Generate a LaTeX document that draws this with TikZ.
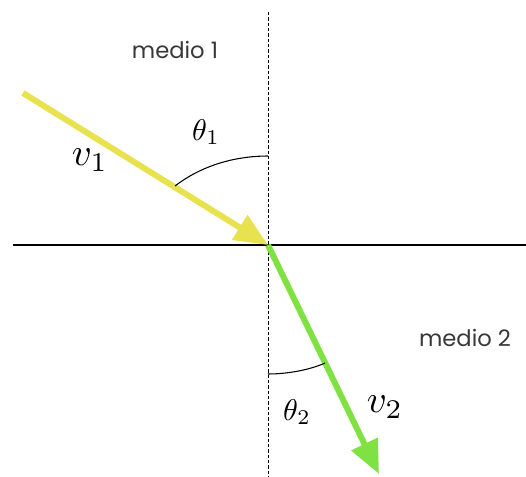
\documentclass[tikz,border=0pt]{standalone}
\usepackage{graphicx}
\usepackage[no-math]{fontspec}
\setmainfont{Liberation Serif}
\newfontfamily\labelfont{Poppins}
\usetikzlibrary{arrows.meta}
\definecolor{rayyellow}{RGB}{232,226,78}
\definecolor{raygreen}{RGB}{128,226,66}
\tikzset{
  ray/.style={line width=4.5pt,-{Triangle[length=25pt,width=21pt]}},
  medio/.style={font=\labelfont\fontsize{17}{19}\selectfont,text=black!78},
  anglearc/.style={line width=0.8pt},
}
\newcommand{\symlabel}[1]{\scalebox{2.25}{$#1$}}
\newcommand{\vellabel}[1]{\scalebox{2.9}{$#1$}}
\begin{document}
\begin{tikzpicture}[x=0.75pt,y=-0.75pt]
\useasboundingbox (0,0) rectangle (526,477);
\coordinate (O) at (268,245);
\coordinate (L) at (13,245);
\coordinate (R) at (526,245);
\coordinate (T) at (268,12);
\coordinate (D) at (268,477);
\coordinate (A) at (23,93);
\coordinate (B) at (379,474);
\coordinate (P1) at (175,186);
\coordinate (Q1) at (268,156);
\coordinate (P2) at (325,363);
\coordinate (Q2) at (268,374);
\draw[line width=1pt] (L) -- (R);
\draw[line width=0.7pt,dash pattern=on 2.5pt off 1.5pt] (T) -- (D);
\draw[ray,rayyellow] (A) -- (O);
\draw[ray,raygreen] (O) -- (B);
\draw[anglearc] (P1) .. controls (205,163) and (240,156) .. (Q1);
\draw[anglearc] (Q2) .. controls (290,374) and (312,369) .. (P2);
\node[medio] (m1) at (175,50) {medio 1};
\node[medio] (m2) at (465,338) {medio 2};
\node (t1) at (206,132) {\symlabel{\theta_1}};
\node (t2) at (297,412) {\symlabel{\theta_2}};
\node (v1) at (90,160) {\vellabel{v_1}};
\node (v2) at (385,407) {\vellabel{v_2}};
\end{tikzpicture}
\end{document}
